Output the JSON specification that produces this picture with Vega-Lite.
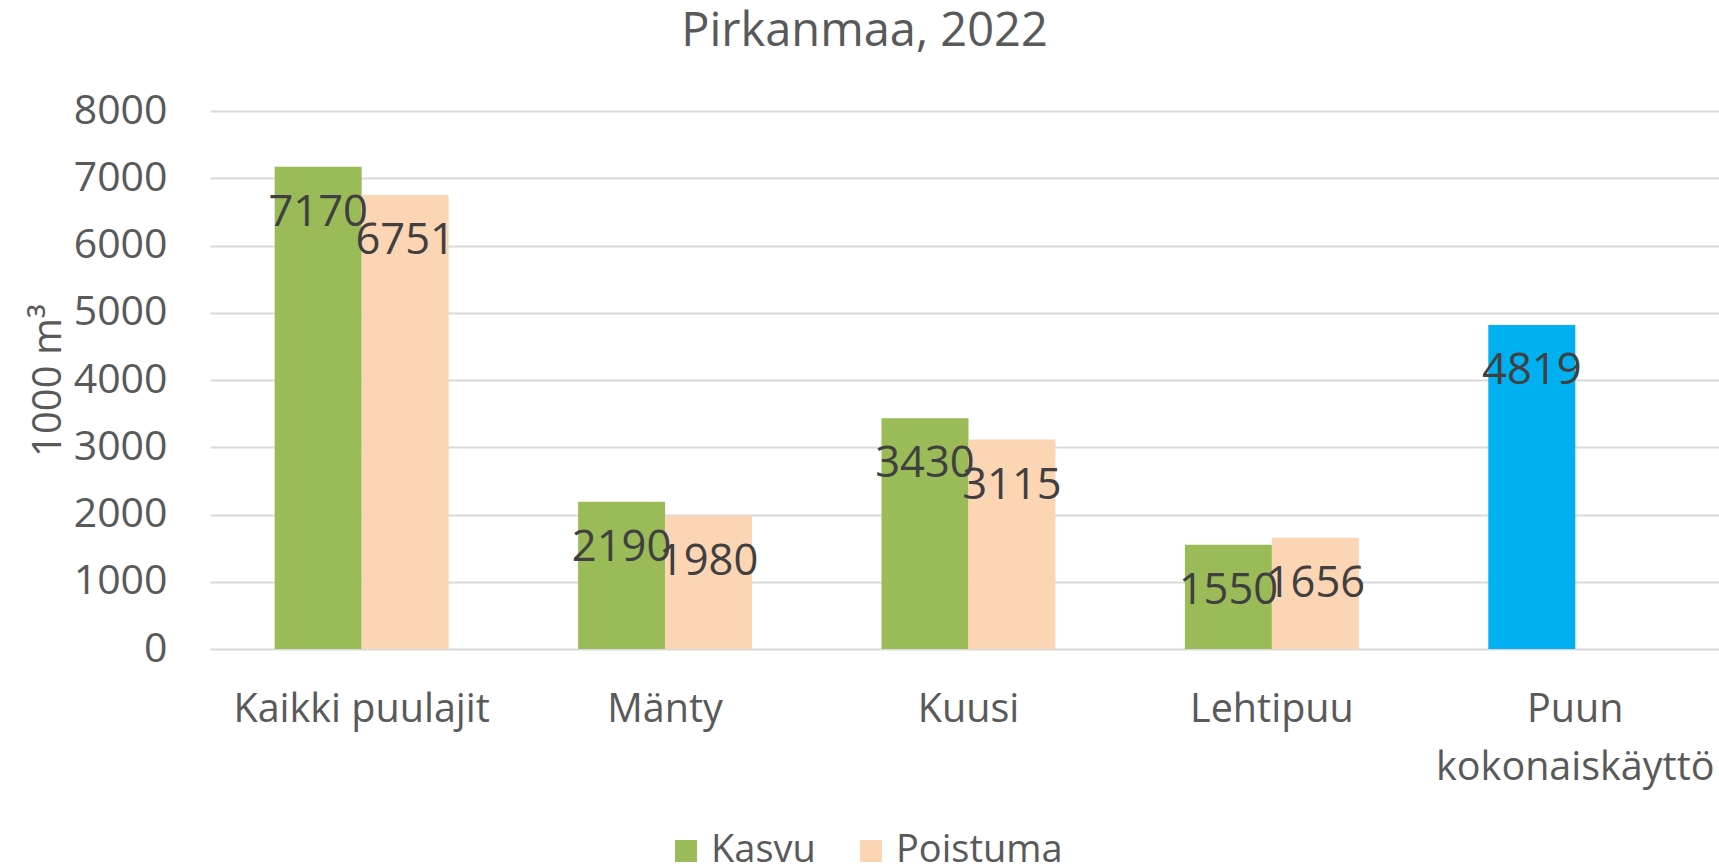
{
  "$schema": "https://vega.github.io/schema/vega-lite/v6.json",
  "width": 1517,
  "height": 538,
  "autosize": {"type": "none"},
  "padding": {"left": 210, "top": 111, "right": 0, "bottom": 215},
  "background": "white",
  "config": {"view": {"stroke": null}, "font": "Open Sans"},
  "title": {
    "text": "Pirkanmaa, 2022",
    "fontSize": 47,
    "font": "Open Sans",
    "fontWeight": "normal",
    "color": "#595959",
    "anchor": "middle",
    "frame": "group",
    "dx": -104,
    "offset": 34
  },
  "data": {
    "values": [
      {"kategoria": "Kaikki puulajit", "sarja": "Kasvu", "paikka": "A", "arvo": 7170},
      {"kategoria": "Kaikki puulajit", "sarja": "Poistuma", "paikka": "B", "arvo": 6751},
      {"kategoria": "Mänty", "sarja": "Kasvu", "paikka": "A", "arvo": 2190},
      {"kategoria": "Mänty", "sarja": "Poistuma", "paikka": "B", "arvo": 1980},
      {"kategoria": "Kuusi", "sarja": "Kasvu", "paikka": "A", "arvo": 3430},
      {"kategoria": "Kuusi", "sarja": "Poistuma", "paikka": "B", "arvo": 3115},
      {"kategoria": "Lehtipuu", "sarja": "Kasvu", "paikka": "A", "arvo": 1550},
      {"kategoria": "Lehtipuu", "sarja": "Poistuma", "paikka": "B", "arvo": 1656},
      {"kategoria": "Puun kokonaiskäyttö", "sarja": "Käyttö", "paikka": "A", "arvo": 4819}
    ]
  },
  "encoding": {
    "x": {
      "field": "kategoria",
      "type": "nominal",
      "sort": null,
      "scale": {"paddingInner": 0.4265, "paddingOuter": 0.2132},
      "axis": {
        "title": null,
        "labelAngle": 0,
        "labelFontSize": 39.5,
        "labelColor": "#595959",
        "labelPadding": 41,
        "labelLineHeight": 58,
        "labelLimit": 0,
        "labelExpr": "datum.label == 'Puun kokonaiskäyttö' ? ['Puun', 'kokonaiskäyttö'] : datum.label",
        "domain": false,
        "ticks": false,
        "grid": false
      }
    },
    "xOffset": {
      "field": "paikka",
      "type": "nominal",
      "scale": {"domain": ["A", "B"], "paddingInner": 0, "paddingOuter": 0}
    },
    "y": {
      "field": "arvo",
      "type": "quantitative",
      "scale": {"domain": [0, 8000]},
      "axis": {
        "title": "1000 m³",
        "titleFontSize": 40,
        "titleFontWeight": "normal",
        "titleColor": "#595959",
        "titlePadding": 5,
        "labelFontSize": 41,
        "labelColor": "#595959",
        "labelPadding": 43,
        "format": "d",
        "values": [0, 1000, 2000, 3000, 4000, 5000, 6000, 7000, 8000],
        "ticks": false,
        "domain": false,
        "grid": true,
        "gridColor": "#D9D9D9",
        "gridWidth": 2
      }
    }
  },
  "layer": [
    {
      "mark": {"type": "bar"},
      "encoding": {
        "color": {
          "field": "sarja",
          "type": "nominal",
          "scale": {"domain": ["Kasvu", "Poistuma", "Käyttö"], "range": ["#9BBB59", "#FCD5B5", "#00B0F0"]},
          "legend": {
            "values": ["Kasvu", "Poistuma"],
            "orient": "none",
            "legendX": 457,
            "legendY": 721,
            "direction": "horizontal",
            "title": null,
            "labelFontSize": 38,
            "labelLimit": 0,
            "labelColor": "#595959",
            "symbolType": "square",
            "symbolSize": 484,
            "symbolStrokeWidth": 0,
            "symbolOpacity": 1,
            "labelOffset": 6,
            "columnPadding": 36
          }
        }
      }
    },
    {
      "mark": {"type": "text", "baseline": "middle", "dy": 46, "fontSize": 43.5, "color": "#404040"},
      "encoding": {
        "text": {"field": "arvo", "type": "quantitative", "format": "d"}
      }
    }
  ]
}
